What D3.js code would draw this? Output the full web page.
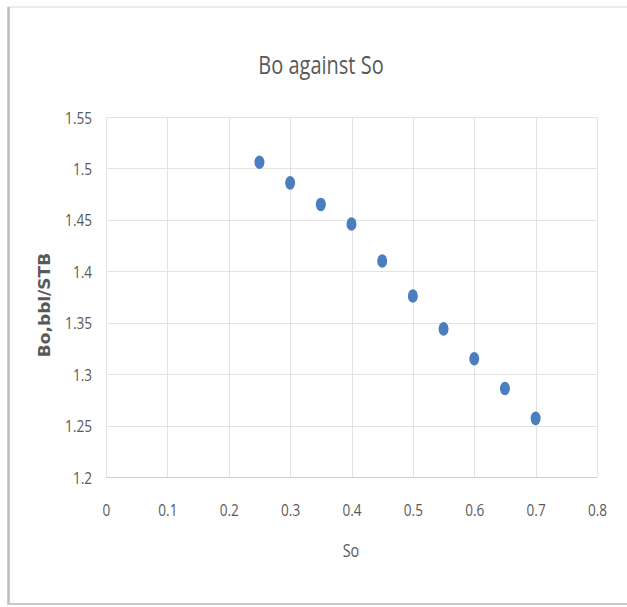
<!DOCTYPE html>
<html>
<head>
<meta charset="utf-8">
<script src="https://cdn.jsdelivr.net/npm/d3@7"></script>
<style>
  html, body { margin: 0; padding: 0; background: #fff; }
  svg { display: block; }
  text { font-family: "Open Sans", "Noto Sans", sans-serif; fill: #595959; }
</style>
</head>
<body>
<svg id="chart" width="627" height="607"></svg>
<script>
// Oil saturation vs formation volume factor
const so = [0.25, 0.30, 0.35, 0.40, 0.45, 0.50, 0.55, 0.60, 0.65, 0.70];
const bo = [1.506, 1.486, 1.465, 1.446, 1.410, 1.376, 1.344, 1.315, 1.286, 1.257];
const xTicks = [0, 0.1, 0.2, 0.3, 0.4, 0.5, 0.6, 0.7, 0.8];
const yTicks = [1.2, 1.25, 1.3, 1.35, 1.4, 1.45, 1.5, 1.55];

const svg = d3.select("#chart");
const W = 627, H = 607;

// chart frame
svg.append("line").attr("x1", 8).attr("x2", W).attr("y1", 7).attr("y2", 7)
  .attr("stroke", "#ececec").attr("stroke-width", 2);
svg.append("line").attr("x1", 8.5).attr("x2", 8.5).attr("y1", 7).attr("y2", 605)
  .attr("stroke", "#bdbdbd").attr("stroke-width", 2.5);
svg.append("line").attr("x1", 8).attr("x2", W).attr("y1", 604).attr("y2", 604)
  .attr("stroke", "#c8c8c8").attr("stroke-width", 2);

const plot = { left: 106, right: 597, top: 117, bottom: 477 };

const x = d3.scaleLinear().domain([0, 0.8]).range([plot.left, plot.right]);
const y = d3.scaleLinear().domain([1.2, 1.55]).range([plot.bottom, plot.top]);

// gridlines
const grid = svg.append("g");
grid.selectAll(".gx").data(xTicks).enter().append("line")
  .attr("x1", d => Math.round(x(d)) + 0.5).attr("x2", d => Math.round(x(d)) + 0.5)
  .attr("y1", plot.top).attr("y2", plot.bottom)
  .attr("stroke", "#e3e3e3").attr("stroke-width", 1);
grid.selectAll(".gy").data(yTicks).enter().append("line")
  .attr("x1", plot.left).attr("x2", plot.right)
  .attr("y1", d => Math.round(y(d)) + 0.5).attr("y2", d => Math.round(y(d)) + 0.5)
  .attr("stroke", d => d === 1.2 ? "#d0d0d0" : "#e3e3e3").attr("stroke-width", 1);

// condensed label helper
const sx = 0.8;
function label(g, tx, ty, str, size, anchor, weight) {
  return g.append("text")
    .attr("transform", `translate(${tx},${ty}) scale(${sx},1)`)
    .attr("text-anchor", anchor)
    .attr("dominant-baseline", "central")
    .style("font-size", size + "px")
    .style("font-weight", weight || 400)
    .text(str);
}

// axes tick labels via scales
const xAxis = d3.axisBottom(x).tickValues(xTicks).tickSize(0).tickFormat(d3.format(""));
const yAxis = d3.axisLeft(y).tickValues(yTicks).tickSize(0).tickFormat(d3.format(""));

const gx = svg.append("g").attr("transform", `translate(0,${plot.bottom})`).call(xAxis);
gx.attr("font-size", null).attr("font-family", null);
gx.select(".domain").remove();
gx.selectAll("text")
  .attr("y", 0).attr("dy", null)
  .attr("transform", "translate(0,33) scale(0.8,1)")
  .attr("dominant-baseline", "central")
  .style("font-size", "17px").style("fill", "#595959")
  .style("font-family", "'Open Sans', sans-serif");

const gy = svg.append("g").attr("transform", `translate(${plot.left - 14},0)`).call(yAxis);
gy.attr("font-size", null).attr("font-family", null);
gy.select(".domain").remove();
gy.selectAll("text")
  .attr("x", 0).attr("dy", null)
  .attr("transform", "scale(0.8,1)")
  .attr("dominant-baseline", "central")
  .attr("text-anchor", "end")
  .style("font-size", "17px").style("fill", "#595959")
  .style("font-family", "'Open Sans', sans-serif");

// title and axis titles
label(svg, 321, 65, "Bo against So", 25, "middle");
label(svg, 351, 550, "So", 18, "middle");
svg.append("text")
  .attr("transform", "translate(45,305) rotate(-90) scale(1,0.95)")
  .attr("text-anchor", "middle")
  .attr("dominant-baseline", "central")
  .style("font-family", "'DejaVu Sans', Verdana, sans-serif")
  .style("font-size", "17px").style("font-weight", "bold")
  .text("Bo,bbl/STB");

// markers
svg.append("g").selectAll("ellipse").data(so).enter().append("ellipse")
  .attr("cx", d => x(d))
  .attr("cy", (d, i) => y(bo[i]))
  .attr("rx", 5).attr("ry", 6.8)
  .attr("fill", "#4a7ebf");
</script>
</body>
</html>
